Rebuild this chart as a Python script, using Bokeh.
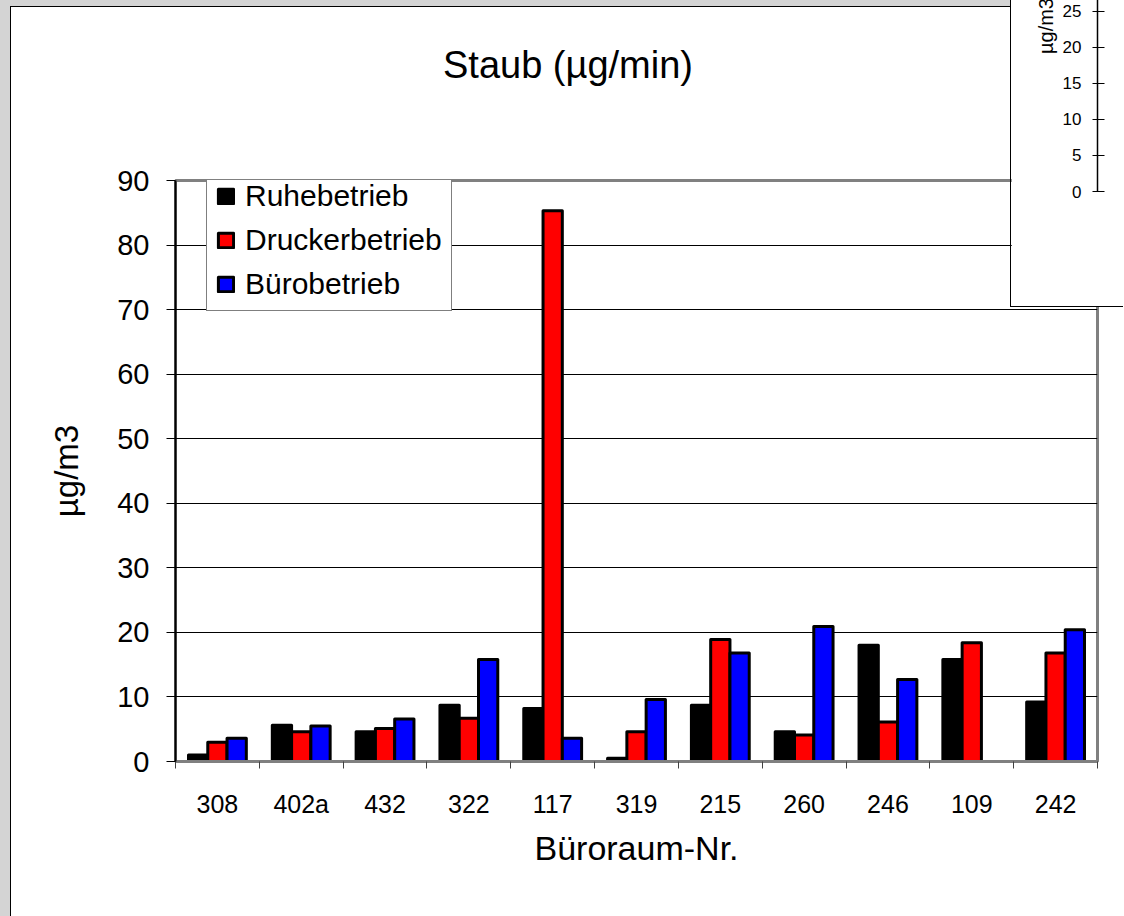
from bokeh.plotting import figure
from bokeh.layouts import column
from bokeh.models import (FactorRange, Range1d, ColumnDataSource, Legend, LegendItem,
                          LinearAxis, FixedTicker, Div)
from bokeh.transform import dodge
from bokeh.embed import file_html
from bokeh.resources import INLINE

# ---------------- data ----------------
rooms = ["308", "402a", "432", "322", "117", "319", "215", "260", "246", "109", "242"]
ruhebetrieb = [1.0, 5.6, 4.6, 8.7, 8.2, 0.5, 8.7, 4.6, 18.0, 15.8, 9.2]
druckerbetrieb = [3.0, 4.6, 5.1, 6.7, 85.3, 4.6, 18.9, 4.1, 6.1, 18.4, 16.8]
buerobetrieb = [3.6, 5.5, 6.6, 15.8, 3.6, 9.6, 16.8, 20.9, 12.7, float("nan"), 20.4]
series_names = ["Ruhebetrieb", "Druckerbetrieb", "Bürobetrieb"]
series_colors = ["#000000", "#ff0000", "#0000ff"]
y_ticks = [0, 10, 20, 30, 40, 50, 60, 70, 80, 90]
inset_ticks = [0, 5, 10, 15, 20, 25]
title_text = "Staub (µg/min)"

FONT = "Liberation Sans"

# ---------------- main figure ----------------
W, H = 1124, 916
ML, MR, MT, MB = 175, 27, 180, 155
p = figure(width=W, height=H, title=None,
           x_range=FactorRange(factors=rooms, range_padding=0),
           y_range=Range1d(0, 90),
           output_backend="svg", toolbar_location=None, x_axis_location=None,
           min_border_left=ML, min_border_right=MR, min_border_top=MT, min_border_bottom=MB,
           background_fill_color="white", border_fill_color="white")

p.outline_line_color = "#808080"
p.outline_line_width = 3
p.xgrid.grid_line_color = None
p.ygrid.grid_line_color = "black"
p.ygrid.grid_line_width = 1

# y axis
yax = p.yaxis[0]
yax.ticker = FixedTicker(ticks=y_ticks)
yax.axis_line_color = "black"
yax.axis_line_width = 2
yax.major_tick_line_color = "black"
yax.major_tick_out = 9
yax.major_tick_in = 0
yax.minor_tick_line_color = None
yax.major_label_text_font = FONT
yax.major_label_text_font_size = "29px"
yax.major_label_text_color = "black"
yax.major_label_standoff = 17
yax.axis_label = "µg/m3"
yax.axis_label_text_font = FONT
yax.axis_label_text_font_size = "33px"
yax.axis_label_text_font_style = "normal"
yax.axis_label_text_color = "black"
yax.axis_label_standoff = 29

# x axis: labels at the category centres, tick marks between categories
n = len(rooms)
centres = [i + 0.5 for i in range(n)]
xax = LinearAxis(ticker=FixedTicker(ticks=centres, minor_ticks=list(range(n + 1))),
                 major_label_overrides={c: r for c, r in zip(centres, rooms)},
                 axis_line_color="#808080", axis_line_width=3,
                 major_tick_line_color=None, major_tick_out=0, major_tick_in=0,
                 minor_tick_line_color="#404040", minor_tick_line_width=1,
                 minor_tick_out=7, minor_tick_in=0,
                 major_label_text_font=FONT, major_label_text_font_size="25px",
                 major_label_text_color="black",
                 major_label_standoff=21,
                 axis_label="Büroraum-Nr.", axis_label_text_font=FONT,
                 axis_label_text_font_size="34px", axis_label_text_font_style="normal",
                 axis_label_text_color="black",
                 axis_label_standoff=8)
p.add_layout(xax, "below")

# ---------------- bars ----------------
src = ColumnDataSource(dict(room=rooms, ruhe=ruhebetrieb, druck=druckerbetrieb, buero=buerobetrieb))
keys = ["ruhe", "druck", "buero"]
bw = 0.23
offsets = [-bw, 0.0, bw]
items = []
for key, off, col, name in zip(keys, offsets, series_colors, series_names):
    r = p.vbar(x=dodge("room", off, range=p.x_range), top=key, width=bw, source=src,
               fill_color=col, line_color="black", line_width=3, line_join="round")
    items.append(LegendItem(label=name, renderers=[r]))

legend = Legend(items=items, location=(31, 450),
                border_line_color="black", border_line_width=1,
                background_fill_color="white", background_fill_alpha=1,
                label_text_font=FONT, label_text_font_size="30px", label_text_color="black",
                glyph_width=19, glyph_height=18, label_standoff=10,
                padding=9, spacing=10, label_height=30, margin=0)
p.add_layout(legend, "center")

# ---------------- chart title ----------------
title_div = Div(text=title_text, width=320, height=44,
                styles={"position": "absolute", "left": "443px", "top": "46px",
                        "font-family": FONT, "font-size": "38px", "line-height": "38px",
                        "color": "#000000", "white-space": "nowrap", "z-index": "3",
                        "margin": "0px", "padding": "0px"})


# ---------------- grey page edge with the chart-area border ----------------
def rect_div(left, top, width, height, color, z):
    return Div(text="", width=width, height=height,
               styles={"position": "absolute", "left": f"{left}px", "top": f"{top}px",
                       "width": f"{width}px", "height": f"{height}px",
                       "background-color": color, "pointer-events": "none",
                       "z-index": str(z), "padding": "0px", "margin": "0px"})


edge_divs = [rect_div(0, 0, 10, H, "#d4d4d4", 4),
             rect_div(0, 0, 1010, 6, "#d4d4d4", 4),
             rect_div(10, 6, 1, H - 6, "#000000", 4),
             rect_div(10, 6, 1000, 1, "#000000", 4)]

# ---------------- clipped second chart overlapping the top-right corner ----------------
inset_px_per_unit = 7.22
IW, IH = 113, 447
IMT, IMB = 0, 116
inset_top = (IH - IMT - IMB) / inset_px_per_unit
inset = figure(width=IW, height=IH, x_range=Range1d(0, 1), y_range=Range1d(0, inset_top),
               output_backend="svg", toolbar_location=None, x_axis_location=None,
               min_border_left=106, min_border_right=0, min_border_top=IMT, min_border_bottom=IMB,
               background_fill_color="white", border_fill_color="white",
               styles={"position": "absolute", "left": "1010px", "top": "-140px",
                       "border-left": "1px solid #000000", "border-bottom": "1.5px solid #000000",
                       "z-index": "5"})
inset.outline_line_color = None
inset.grid.grid_line_color = None
iax = inset.yaxis[0]
iax.ticker = FixedTicker(ticks=inset_ticks)
iax.axis_line_color = "black"
iax.axis_line_width = 1.5
iax.major_tick_line_color = "black"
iax.major_tick_line_width = 1.2
iax.major_tick_out = 5
iax.major_tick_in = 7
iax.minor_tick_line_color = None
iax.major_label_text_font = FONT
iax.major_label_text_font_size = "17px"
iax.major_label_text_color = "black"
iax.major_label_standoff = 11
iax.axis_label = "µg/m3"
iax.axis_label_text_font = FONT
iax.axis_label_text_font_size = "20px"
iax.axis_label_text_font_style = "normal"
iax.axis_label_text_color = "black"
iax.axis_label_standoff = 3

layout_root = column(p, title_div, *edge_divs, inset)

open("out.html", "w").write(file_html(layout_root, INLINE))
